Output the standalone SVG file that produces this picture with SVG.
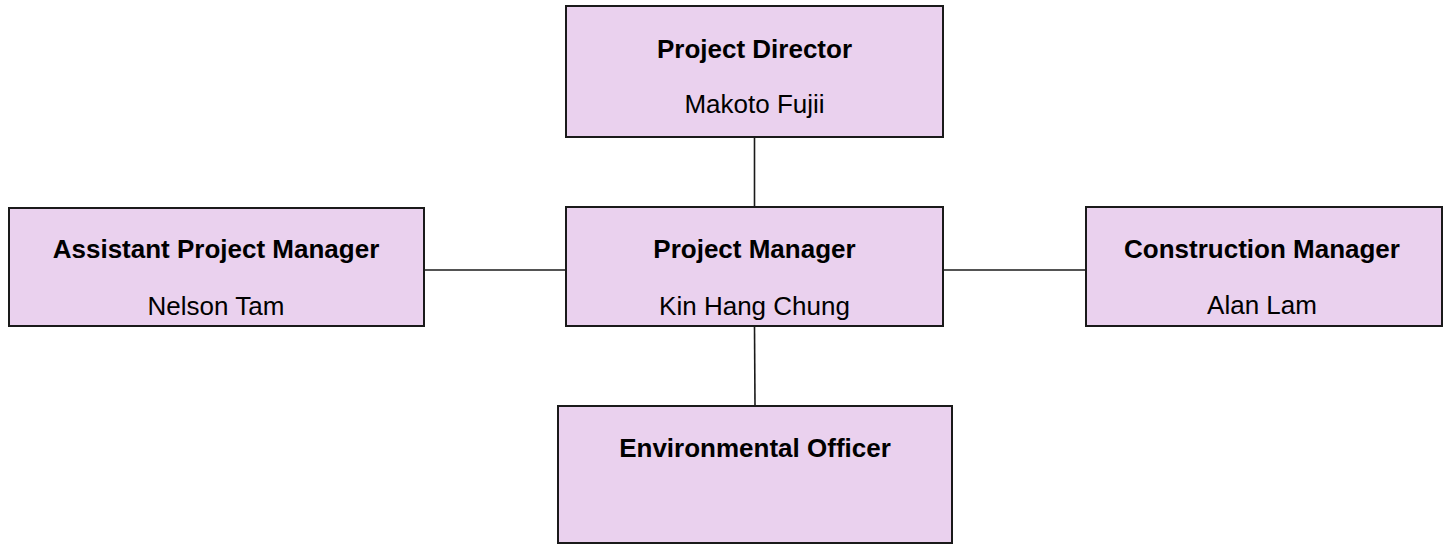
<svg xmlns="http://www.w3.org/2000/svg" width="1444" height="545" viewBox="0 0 1444 545">
<style>
.box{fill:#EAD1EE;stroke:#1a1a1a;stroke-width:2}
.t{font-family:"Liberation Sans",Arial,sans-serif;font-size:26px;fill:#000;text-anchor:middle}
.b{font-weight:bold}
.c{stroke:#1a1a1a;stroke-width:1.6;fill:none}
</style>
<rect width="1444" height="545" fill="#fff"/>
<g id="connectors">
<line class="c" x1="754.5" y1="137" x2="754.5" y2="207"/>
<line class="c" x1="424" y1="270" x2="566" y2="270"/>
<line class="c" x1="943" y1="270" x2="1086" y2="270"/>
<line class="c" x1="754.5" y1="326" x2="755" y2="406"/>
</g>
<g id="project-director">
<rect class="box" x="566" y="6" width="377" height="131"/>
<text class="t b" x="754.5" y="58">Project Director</text>
<text class="t" x="754.5" y="113">Makoto Fujii</text>
</g>
<g id="assistant-project-manager">
<rect class="box" x="9" y="208" width="415" height="118"/>
<text class="t b" x="216" y="258">Assistant Project Manager</text>
<text class="t" x="216" y="315">Nelson Tam</text>
</g>
<g id="project-manager">
<rect class="box" x="566" y="207" width="377" height="119"/>
<text class="t b" x="754.5" y="258">Project Manager</text>
<text class="t" x="754.5" y="315">Kin Hang Chung</text>
</g>
<g id="construction-manager">
<rect class="box" x="1086" y="207" width="356" height="119"/>
<text class="t b" x="1262" y="258">Construction Manager</text>
<text class="t" x="1262" y="314">Alan Lam</text>
</g>
<g id="environmental-officer">
<rect class="box" x="558" y="406" width="394" height="137"/>
<text class="t b" x="755" y="457">Environmental Officer</text>
</g>
</svg>
